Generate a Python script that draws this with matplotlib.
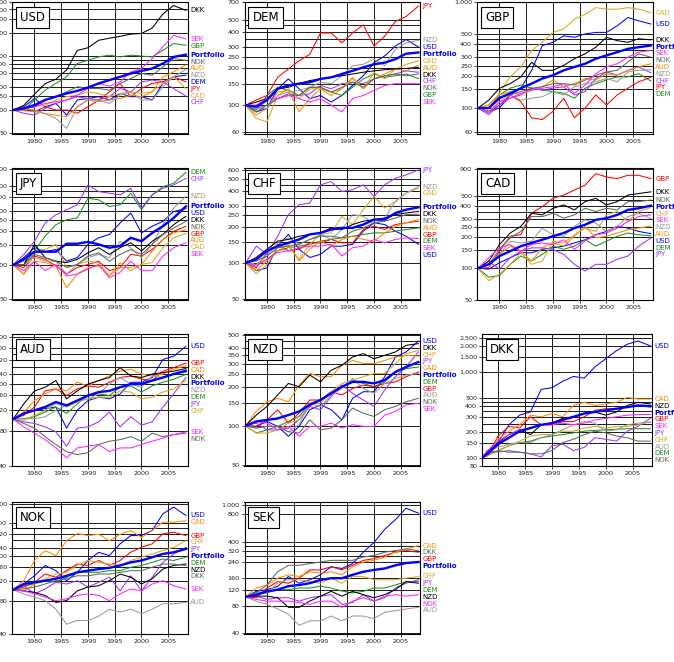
import numpy as np
import matplotlib
matplotlib.use("Agg")
import matplotlib.pyplot as plt
from matplotlib.ticker import FixedLocator, FuncFormatter, NullFormatter

# sample dates (every second year); the DKK panel starts one year later
YEARS = [1976, 1978, 1980, 1982, 1984, 1986, 1988, 1990, 1992, 1994,
         1996, 1998, 2000, 2002, 2004, 2006, 2008.3]
YEARS_DKK = [1977] + YEARS[1:]

CURRENCIES = ["USD", "DEM", "GBP", "JPY", "CHF", "CAD", "AUD", "NZD", "DKK", "NOK", "SEK"]
COLORS = ["#0000ff", "#1a931a", "#ff0000", "#9933ff", "#d9a81e",
          "#ff8800", "#9a9a9a", "#000000", "#5c6b5c", "#ff22ff"]

USD_PANEL = {
    "DEM": [100, 110, 141, 110, 122, 86, 135, 141, 149, 135, 164, 149, 149, 135, 221, 269, 283],
    "GBP": [100, 100, 135, 181, 221, 270, 400, 442, 487, 513, 487, 513, 500, 487, 594, 725, 690],
    "JPY": [100, 110, 95, 110, 100, 100, 91, 110, 135, 172, 221, 149, 190, 221, 232, 269, 232],
    "CHF": [100, 91, 86, 105, 122, 135, 149, 141, 135, 149, 190, 172, 232, 244, 232, 190, 152],
    "CAD": [100, 105, 110, 116, 135, 149, 156, 172, 164, 149, 164, 172, 164, 172, 221, 269, 190],
    "AUD": [100, 98, 95, 90, 86, 82, 110, 135, 128, 135, 141, 156, 149, 172, 269, 312, 385],
    "NZD": [100, 103, 100, 90, 78, 58, 110, 135, 135, 122, 156, 172, 135, 135, 200, 269, 335],
    "DKK": [100, 115, 160, 220, 250, 330, 590, 640, 800, 850, 900, 960, 980, 1150, 1750, 2250, 1950],
    "NOK": [100, 105, 110, 135, 149, 172, 200, 190, 190, 181, 221, 256, 297, 283, 362, 463, 440],
    "SEK": [100, 105, 110, 122, 128, 135, 156, 190, 220, 204, 232, 312, 345, 463, 656, 928, 830],
    "Portfolio": [100, 105, 116, 135, 149, 164, 177, 196, 221, 244, 269, 297, 321, 345, 400, 487, 520],
}

DEM_PANEL = {
    "USD": [100, 88, 94, 136, 164, 136, 113, 120, 106, 120, 145, 174, 223, 253, 305, 345, 300],
    "GBP": [100, 91, 120, 140, 132, 120, 140, 140, 128, 120, 140, 164, 180, 169, 174, 180, 165],
    "JPY": [100, 110, 120, 169, 198, 231, 261, 390, 390, 324, 390, 455, 305, 367, 485, 532, 648],
    "CHF": [100, 94, 100, 113, 120, 120, 124, 145, 136, 150, 154, 150, 164, 174, 180, 191, 186],
    "CAD": [100, 78, 73, 120, 136, 113, 136, 136, 128, 136, 164, 136, 186, 164, 198, 216, 230],
    "AUD": [100, 83, 94, 128, 132, 88, 113, 136, 120, 136, 169, 136, 164, 180, 198, 191, 212],
    "NZD": [100, 94, 94, 120, 128, 132, 140, 154, 150, 174, 210, 216, 238, 210, 286, 324, 340],
    "DKK": [100, 106, 113, 136, 140, 150, 159, 164, 169, 174, 180, 186, 191, 195, 198, 200, 204],
    "NOK": [100, 88, 100, 113, 124, 120, 140, 140, 128, 140, 154, 140, 164, 174, 180, 174, 180],
    "SEK": [100, 100, 113, 113, 120, 113, 106, 113, 100, 88, 113, 120, 132, 145, 150, 150, 150],
    "Portfolio": [100, 97, 110, 136, 145, 150, 154, 164, 169, 180, 191, 204, 216, 223, 238, 264, 270],
}

GBP_PANEL = {
    "USD": [100, 93, 100, 133, 154, 227, 388, 417, 480, 465, 500, 517, 517, 596, 715, 665, 620],
    "DEM": [100, 100, 133, 154, 165, 154, 148, 143, 138, 124, 154, 170, 184, 197, 197, 211, 180],
    "JPY": [100, 93, 107, 133, 115, 81, 78, 93, 124, 81, 100, 133, 107, 133, 154, 177, 195],
    "CHF": [100, 87, 107, 124, 133, 154, 148, 154, 159, 133, 143, 190, 219, 204, 227, 244, 215],
    "CAD": [100, 107, 138, 197, 244, 349, 417, 517, 556, 688, 767, 885, 855, 855, 885, 855, 794],
    "AUD": [100, 107, 133, 143, 133, 148, 159, 184, 159, 170, 190, 184, 211, 204, 227, 244, 262],
    "NZD": [100, 93, 115, 133, 119, 124, 128, 143, 133, 159, 170, 177, 190, 177, 219, 227, 230],
    "DKK": [100, 119, 154, 170, 197, 270, 227, 227, 253, 292, 325, 375, 465, 432, 417, 450, 440],
    "NOK": [100, 100, 128, 133, 143, 154, 159, 170, 170, 165, 184, 204, 219, 227, 272, 325, 302],
    "SEK": [100, 90, 115, 124, 138, 148, 154, 159, 170, 138, 165, 211, 244, 262, 302, 337, 349],
    "Portfolio": [100, 100, 124, 138, 154, 170, 190, 204, 227, 244, 262, 292, 314, 337, 362, 375, 389],
}

JPY_PANEL = {
    "USD": [100, 116, 142, 131, 137, 108, 116, 152, 174, 186, 235, 288, 192, 220, 243, 297, 315],
    "DEM": [100, 100, 133, 180, 227, 251, 260, 389, 377, 329, 340, 431, 308, 417, 493, 527, 658],
    "GBP": [100, 95, 120, 112, 98, 83, 95, 101, 108, 89, 95, 124, 120, 137, 168, 198, 220],
    "CHF": [100, 124, 162, 235, 278, 307, 340, 510, 445, 431, 417, 476, 318, 417, 476, 510, 583],
    "CAD": [100, 83, 133, 137, 152, 95, 101, 108, 105, 80, 95, 95, 101, 105, 142, 174, 190],
    "AUD": [100, 83, 108, 105, 98, 63, 83, 95, 98, 80, 105, 89, 101, 133, 168, 192, 205],
    "NZD": [100, 108, 116, 108, 108, 83, 101, 116, 124, 116, 162, 142, 116, 152, 227, 318, 404],
    "DKK": [100, 100, 152, 116, 108, 105, 112, 128, 142, 124, 142, 157, 133, 162, 186, 227, 269],
    "NOK": [100, 100, 124, 116, 108, 95, 101, 120, 128, 108, 124, 137, 124, 152, 186, 212, 243],
    "SEK": [100, 89, 108, 89, 101, 80, 83, 92, 101, 77, 86, 108, 89, 89, 120, 142, 157],
    "Portfolio": [100, 112, 131, 131, 131, 154, 154, 160, 152, 142, 147, 174, 162, 192, 220, 260, 330],
}

CHF_PANEL = {
    "USD": [100, 86, 91, 138, 173, 130, 111, 118, 138, 138, 143, 184, 216, 209, 184, 167, 143],
    "DEM": [100, 97, 107, 126, 134, 138, 143, 152, 157, 162, 167, 173, 178, 178, 184, 190, 196],
    "GBP": [100, 91, 122, 143, 126, 130, 147, 147, 157, 147, 147, 190, 202, 190, 209, 216, 223],
    "JPY": [100, 138, 118, 167, 253, 306, 316, 449, 478, 395, 408, 449, 359, 449, 509, 543, 597],
    "CAD": [100, 81, 97, 134, 138, 107, 143, 173, 178, 245, 209, 278, 359, 287, 326, 383, 420],
    "AUD": [100, 86, 104, 126, 143, 104, 130, 152, 138, 157, 167, 157, 152, 178, 202, 216, 230],
    "NZD": [100, 97, 114, 147, 162, 143, 157, 173, 157, 190, 253, 245, 209, 237, 326, 383, 434],
    "DKK": [100, 111, 130, 152, 157, 167, 173, 178, 196, 190, 209, 223, 230, 237, 253, 261, 269],
    "NOK": [100, 104, 114, 134, 138, 143, 157, 167, 167, 162, 184, 196, 216, 223, 237, 253, 255],
    "SEK": [100, 94, 107, 122, 126, 134, 138, 138, 143, 114, 134, 138, 157, 147, 157, 162, 160],
    "Portfolio": [100, 107, 126, 138, 147, 157, 173, 178, 190, 196, 196, 209, 230, 230, 261, 278, 291],
}

CAD_PANEL = {
    "USD": [100, 98, 113, 126, 141, 141, 152, 157, 163, 175, 188, 210, 226, 253, 243, 226, 215],
    "DEM": [100, 82, 85, 109, 131, 117, 136, 163, 152, 163, 188, 163, 182, 203, 218, 210, 205],
    "GBP": [100, 101, 146, 203, 210, 338, 391, 470, 505, 564, 629, 812, 755, 727, 783, 783, 727],
    "JPY": [100, 117, 98, 126, 146, 157, 157, 152, 136, 109, 94, 109, 109, 122, 131, 163, 195],
    "CHF": [100, 76, 88, 109, 141, 109, 117, 182, 175, 210, 243, 226, 326, 351, 281, 351, 385],
    "AUD": [100, 109, 136, 163, 146, 117, 157, 175, 163, 203, 253, 196, 203, 218, 234, 243, 255],
    "NZD": [100, 109, 136, 182, 175, 182, 243, 210, 203, 253, 292, 272, 226, 253, 314, 338, 300],
    "DKK": [100, 117, 169, 218, 253, 338, 326, 377, 406, 364, 437, 470, 406, 437, 505, 523, 543],
    "NOK": [100, 109, 152, 196, 226, 314, 314, 338, 303, 326, 377, 351, 377, 364, 437, 437, 453],
    "SEK": [100, 126, 157, 169, 146, 169, 175, 169, 188, 152, 182, 210, 218, 243, 281, 314, 326],
    "Portfolio": [100, 109, 131, 146, 163, 175, 188, 203, 218, 243, 262, 292, 303, 326, 364, 377, 400],
}

AUD_PANEL = {
    "USD": [100, 112, 119, 123, 127, 84, 119, 144, 154, 149, 164, 206, 206, 226, 322, 343, 416],
    "DEM": [100, 101, 105, 115, 127, 112, 135, 159, 164, 159, 187, 192, 170, 192, 206, 219, 240],
    "GBP": [100, 108, 127, 174, 181, 159, 181, 192, 187, 206, 226, 233, 219, 213, 256, 274, 300],
    "JPY": [100, 95, 92, 86, 78, 59, 84, 86, 95, 115, 86, 105, 89, 95, 127, 164, 226],
    "CHF": [100, 98, 108, 119, 135, 127, 140, 149, 154, 154, 174, 170, 149, 154, 170, 181, 213],
    "CAD": [100, 115, 144, 164, 181, 174, 206, 192, 213, 233, 256, 266, 242, 233, 242, 266, 285],
    "NZD": [100, 101, 101, 105, 119, 131, 144, 149, 164, 199, 226, 199, 187, 233, 226, 242, 250],
    "DKK": [100, 135, 174, 187, 213, 149, 174, 199, 213, 226, 274, 233, 226, 242, 249, 256, 270],
    "NOK": [100, 92, 84, 71, 61, 53, 50, 52, 61, 65, 67, 71, 65, 76, 71, 74, 76],
    "SEK": [100, 86, 76, 67, 57, 47, 57, 59, 61, 53, 57, 57, 61, 65, 69, 74, 78],
    "Portfolio": [100, 112, 119, 127, 140, 131, 144, 159, 170, 174, 187, 199, 199, 213, 226, 242, 258],
}

NZD_PANEL = {
    "USD": [100, 99, 108, 99, 83, 99, 133, 145, 133, 111, 163, 183, 183, 239, 339, 371, 450],
    "DEM": [100, 88, 93, 99, 108, 118, 149, 158, 183, 200, 225, 212, 200, 218, 260, 276, 284],
    "GBP": [100, 99, 111, 133, 105, 125, 158, 158, 183, 173, 194, 206, 200, 212, 218, 239, 260],
    "JPY": [100, 105, 93, 93, 96, 111, 141, 133, 168, 206, 178, 158, 141, 189, 239, 284, 371],
    "CHF": [100, 88, 88, 93, 105, 111, 149, 149, 183, 212, 225, 239, 253, 253, 302, 360, 380],
    "CAD": [100, 129, 153, 163, 153, 206, 253, 239, 239, 293, 319, 302, 302, 319, 339, 349, 345],
    "AUD": [100, 96, 99, 99, 90, 102, 149, 141, 173, 194, 232, 194, 178, 212, 232, 246, 253],
    "DKK": [100, 121, 141, 173, 212, 200, 246, 218, 268, 293, 339, 360, 329, 349, 371, 417, 430],
    "NOK": [100, 96, 99, 99, 90, 88, 111, 93, 96, 111, 137, 125, 118, 133, 141, 153, 163],
    "SEK": [100, 108, 105, 93, 99, 83, 99, 99, 105, 96, 102, 99, 99, 121, 129, 145, 149],
    "Portfolio": [100, 108, 111, 114, 121, 129, 145, 158, 178, 200, 218, 218, 212, 225, 260, 284, 310],
}

DKK_PANEL = {
    "USD": [100, 106, 150, 242, 314, 342, 628, 656, 779, 888, 850, 1151, 1430, 1775, 2111, 2302, 2021],
    "DEM": [100, 106, 121, 138, 150, 156, 171, 179, 186, 195, 204, 208, 212, 215, 218, 218, 218],
    "GBP": [100, 106, 179, 232, 222, 300, 242, 242, 264, 264, 300, 357, 373, 373, 390, 407, 390],
    "JPY": [100, 121, 116, 121, 116, 111, 102, 138, 144, 121, 132, 171, 164, 156, 204, 232, 288],
    "CHF": [100, 106, 121, 138, 156, 179, 186, 186, 204, 204, 222, 232, 222, 232, 232, 242, 264],
    "CAD": [100, 111, 164, 204, 242, 314, 300, 328, 300, 407, 443, 407, 424, 443, 505, 484, 484],
    "AUD": [100, 121, 132, 144, 150, 150, 171, 186, 212, 242, 264, 253, 204, 212, 242, 253, 258],
    "NZD": [100, 116, 150, 186, 212, 186, 242, 253, 288, 300, 328, 340, 314, 342, 407, 443, 424],
    "NOK": [100, 111, 121, 116, 116, 111, 111, 121, 150, 164, 186, 204, 195, 179, 171, 156, 156],
    "SEK": [100, 121, 156, 186, 212, 222, 242, 242, 253, 242, 253, 276, 288, 300, 314, 319, 319],
    "Portfolio": [100, 111, 144, 171, 204, 222, 242, 253, 276, 300, 328, 342, 357, 373, 390, 407, 400],
}

NOK_PANEL = {
    "USD": [100, 113, 134, 166, 149, 121, 144, 184, 218, 204, 260, 309, 309, 343, 485, 557, 469],
    "DEM": [100, 109, 113, 121, 117, 130, 144, 144, 144, 149, 149, 160, 166, 177, 190, 184, 197],
    "GBP": [100, 106, 117, 139, 130, 149, 171, 166, 184, 166, 184, 219, 242, 260, 320, 331, 309],
    "JPY": [100, 109, 92, 102, 117, 113, 121, 106, 117, 130, 98, 134, 98, 130, 177, 211, 242],
    "CHF": [100, 98, 113, 126, 139, 144, 166, 184, 177, 171, 166, 184, 197, 211, 226, 242, 278],
    "CAD": [100, 121, 184, 226, 204, 278, 322, 309, 317, 278, 317, 343, 297, 343, 408, 408, 420],
    "AUD": [100, 92, 86, 80, 67, 49, 53, 53, 58, 67, 63, 67, 61, 67, 75, 75, 77],
    "NZD": [100, 98, 95, 89, 77, 80, 98, 106, 109, 121, 139, 130, 113, 126, 154, 166, 171],
    "DKK": [100, 102, 106, 113, 121, 126, 134, 134, 139, 139, 144, 149, 149, 160, 171, 171, 166],
    "SEK": [100, 98, 92, 86, 80, 83, 89, 92, 89, 80, 92, 102, 98, 113, 121, 109, 102],
    "Portfolio": [100, 113, 117, 121, 126, 134, 144, 149, 154, 158, 166, 177, 184, 197, 211, 218, 234],
}

SEK_PANEL = {
    "USD": [100, 115, 120, 130, 167, 141, 154, 174, 213, 204, 231, 307, 392, 544, 694, 924, 817],
    "DEM": [100, 106, 111, 120, 120, 125, 125, 131, 125, 116, 111, 115, 125, 125, 135, 147, 147],
    "GBP": [100, 98, 125, 147, 141, 160, 197, 197, 213, 197, 221, 250, 261, 283, 307, 319, 307],
    "JPY": [100, 102, 94, 98, 98, 90, 98, 102, 106, 83, 87, 106, 90, 98, 125, 141, 154],
    "CHF": [100, 111, 111, 141, 154, 154, 147, 141, 160, 141, 167, 167, 154, 154, 154, 160, 167],
    "CAD": [100, 125, 135, 160, 174, 167, 188, 181, 188, 174, 213, 240, 250, 272, 307, 333, 362],
    "AUD": [100, 90, 83, 74, 65, 49, 55, 55, 62, 55, 62, 62, 58, 68, 71, 74, 77],
    "NZD": [100, 102, 102, 98, 77, 77, 90, 102, 115, 102, 115, 106, 98, 106, 120, 147, 141],
    "DKK": [100, 111, 135, 188, 221, 221, 231, 240, 250, 250, 250, 272, 283, 307, 319, 333, 319],
    "NOK": [100, 94, 90, 90, 90, 87, 83, 90, 90, 77, 90, 98, 90, 102, 106, 102, 106],
    "Portfolio": [100, 106, 115, 120, 131, 135, 141, 153, 160, 160, 174, 188, 197, 204, 221, 234, 240],
}

# y ranges and ticks per panel (log axis)
YLIMS = {"USD": (49, 2500), "DEM": (58, 700), "GBP": (57, 1000), "JPY": (49, 720),
         "CHF": (49, 620), "CAD": (49.5, 920), "AUD": (40, 530), "NZD": (49, 510),
         "DKK": (80, 2780), "NOK": (40, 620), "SEK": (39.5, 1080)}
YTICKS = {
    "USD": [50, 100, 150, 200, 300, 400, 500, 1000, 1500, 2000, 2500],
    "DEM": [60, 100, 150, 200, 250, 300, 400, 500, 700],
    "GBP": [60, 100, 150, 200, 250, 300, 400, 500, 1000],
    "JPY": [50, 100, 150, 200, 250, 300, 400, 500, 700],
    "CHF": [50, 100, 150, 200, 250, 300, 400, 500, 600],
    "CAD": [50, 100, 150, 200, 250, 300, 400, 500, 900],
    "AUD": [40, 80, 120, 160, 200, 240, 320, 400, 500],
    "NZD": [50, 100, 150, 200, 250, 300, 350, 400, 500],
    "DKK": [80, 100, 150, 200, 300, 400, 500, 1000, 1500, 2000, 2500],
    "NOK": [40, 80, 120, 160, 200, 240, 320, 400, 600],
    "SEK": [40, 80, 120, 160, 240, 320, 400, 800, 1000],
}
YMINOR = {"USD": [250, 350, 450], "DEM": [350, 450], "GBP": [350, 450], "JPY": [350, 450],
          "CHF": [350, 450], "CAD": [350, 450], "AUD": [280, 360], "NZD": [450],
          "DKK": [250, 350, 450], "NOK": [280, 360], "SEK": [280, 360]}

PANELS = [("USD", USD_PANEL), ("DEM", DEM_PANEL), ("GBP", GBP_PANEL),
          ("JPY", JPY_PANEL), ("CHF", CHF_PANEL), ("CAD", CAD_PANEL),
          ("AUD", AUD_PANEL), ("NZD", NZD_PANEL), ("DKK", DKK_PANEL),
          ("NOK", NOK_PANEL), ("SEK", SEK_PANEL)]

W, H = 674, 662
fig = plt.figure(figsize=(W / 100, H / 100), dpi=100)

col_left = [12, 244.5, 477]
row_top = [2, 168, 334, 502]
ax_w, ax_h = 175.5, 132


def spread(fracs, gap):
    # push overlapping end labels downwards
    pos = np.array(fracs, dtype=float)
    last = None
    for i in np.argsort(pos)[::-1]:
        if last is not None and pos[i] > last - gap:
            pos[i] = last - gap
        last = pos[i]
    return pos


for k, (base, data) in enumerate(PANELS):
    r, c = divmod(k, 3)
    left, width = col_left[c], ax_w
    if base == "DKK":
        left, width = 482, 170
    ax = fig.add_axes([left / W, 1 - (row_top[r] + ax_h) / H, width / W, ax_h / H])
    years = YEARS_DKK if base == "DKK" else YEARS

    others = [cur for cur in CURRENCIES if cur != base]
    names, cols = [], []
    for cur, col in zip(others, COLORS):
        ax.plot(years, data[cur], color=col, lw=0.75)
        names.append(cur)
        cols.append(col)
    ax.plot(years, data["Portfolio"], color="#0000ff", lw=1.7)
    names.append("Portfolio")
    cols.append("#0000ff")

    lo, hi = YLIMS[base]
    ax.set_yscale("log")
    ax.set_ylim(lo, hi)
    ax.set_xlim(1977 if base == "DKK" else 1975.8, 2008.6)
    ax.yaxis.set_major_locator(FixedLocator(YTICKS[base]))
    ax.yaxis.set_major_formatter(FuncFormatter(lambda v, p: f"{v:,.0f}"))
    ax.yaxis.set_minor_locator(FixedLocator(YMINOR[base]))
    ax.yaxis.set_minor_formatter(NullFormatter())
    ax.set_xticks([1980, 1985, 1990, 1995, 2000, 2005])
    ax.grid(True, which="both", color="#1a1a1a", lw=0.7)
    ax.tick_params(labelsize=4.6, length=2, width=0.6, pad=1.5, colors="#222222")
    ax.tick_params(which="minor", length=0)
    for s in ax.spines.values():
        s.set_linewidth(0.8)

    ax.text(0.045, 0.93, base, transform=ax.transAxes, fontsize=8.5, va="top", ha="left",
            zorder=6, bbox=dict(boxstyle="square,pad=0.35", fc="white", ec="black", lw=0.8))

    finals = [data[n][-1] for n in names]
    fr = (np.log(finals) - np.log(lo)) / (np.log(hi) - np.log(lo))
    pos = spread(fr, 6.8 / ax_h)
    for n, col, y in zip(names, cols, pos):
        ax.text(1.015, y, n, transform=ax.transAxes, va="center", ha="left",
                fontsize=5, color=col, clip_on=False,
                fontweight="bold" if n == "Portfolio" else "normal")

fig.savefig("out.png", dpi=100)
